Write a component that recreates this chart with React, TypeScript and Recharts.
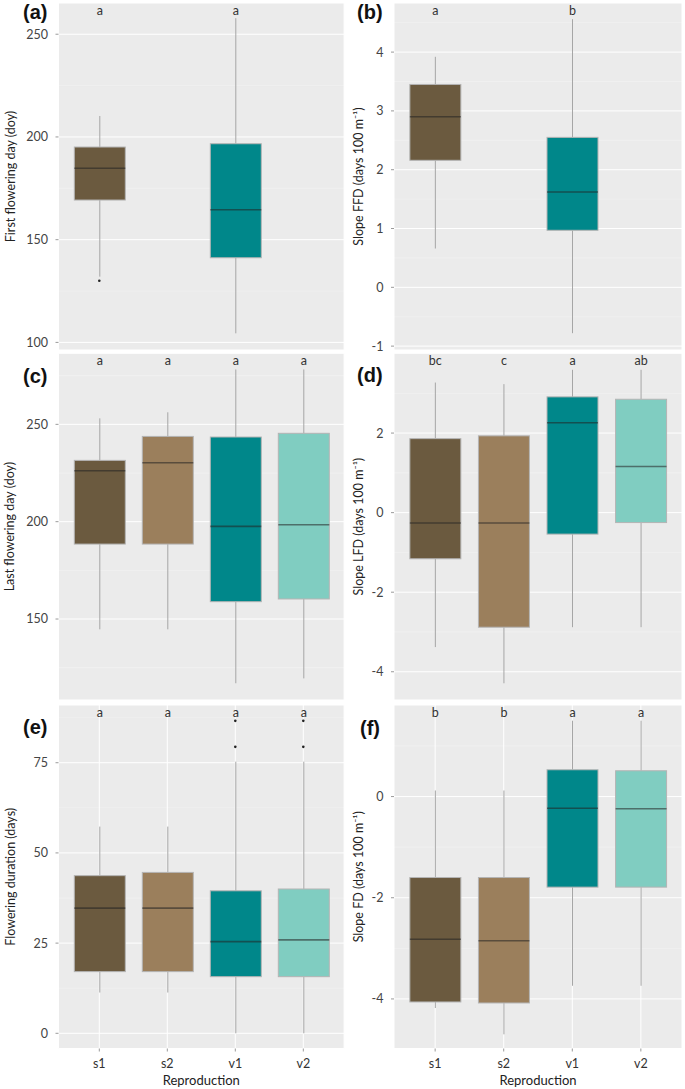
import React from "react";
import { ComposedChart, Bar, Line, XAxis, YAxis, CartesianGrid } from "recharts";

const cats = ["s1", "s2", "v1", "v2"];
const fills = ["#6b5a3f", "#9b7f5c", "#00878a", "#80cdc1"];
const font = "Lato, 'Open Sans', sans-serif";

// (a) first flowering day
const aLo = [132, null, 104.4, null];
const aQ1 = [169.3, null, 141.2, null];
const aMed = [184.8, null, 164.6, null];
const aQ3 = [195.1, null, 196.7, null];
const aHi = [210.2, null, 257.8, null];
const aOut = [130, null, null, null];
const aLetters = ["a", "", "a", ""];

// (b) slope FFD
const bLo = [0.66, null, -0.78, null];
const bQ1 = [2.16, null, 0.97, null];
const bMed = [2.9, null, 1.62, null];
const bQ3 = [3.45, null, 2.55, null];
const bHi = [3.92, null, 4.56, null];
const bLetters = ["a", "", "b", ""];

// (c) last flowering day
const cLo = [144.7, 144.7, 117, 119.5];
const cQ1 = [188.5, 188.5, 158.9, 160.3];
const cMed = [226.2, 230.3, 197.6, 198.4];
const cQ3 = [231.5, 243.8, 243.5, 245.4];
const cHi = [253.1, 256.2, 278.2, 278.2];
const cLetters = ["a", "a", "a", "a"];

// (d) slope LFD
const dLo = [-3.38, -4.29, -2.88, -2.88];
const dQ1 = [-1.16, -2.88, -0.54, -0.25];
const dMed = [-0.26, -0.26, 2.26, 1.16];
const dQ3 = [1.86, 1.93, 2.91, 2.85];
const dHi = [3.27, 3.23, 3.59, 3.59];
const dLetters = ["bc", "c", "a", "ab"];

// (e) flowering duration
const eLo = [11.3, 11.3, 0, 0];
const eQ1 = [17.1, 17.1, 15.7, 15.7];
const eMed = [34.7, 34.7, 25.4, 25.9];
const eQ3 = [43.7, 44.6, 39.5, 40];
const eHi = [57.3, 57.3, 75.3, 75.3];
const eOut1 = [null, null, 79.4, 79.4];
const eOut2 = [null, null, 86.6, 86.6];
const eLetters = ["a", "a", "a", "a"];

// (f) slope FD
const fLo = [-4.18, -4.7, -3.74, -3.74];
const fQ1 = [-4.06, -4.08, -1.79, -1.79];
const fMed = [-2.82, -2.85, -0.23, -0.24];
const fQ3 = [-1.6, -1.6, 0.53, 0.51];
const fHi = [0.12, 0.12, 1.5, 1.5];
const fLetters = ["b", "b", "a", "a"];

type Num = number | null;

const BoxShape = (props: any) => {
  const { x, y, width, height, payload, letterY } = props;
  if (payload == null || payload.lo == null) return null;
  const span = payload.hi - payload.lo;
  const py = (v: number) => y + ((payload.hi - v) / span) * height;
  const cx = x + width / 2;
  return (
    <g>
      <line x1={cx} x2={cx} y1={py(payload.hi)} y2={py(payload.q3)} stroke="#a6a6a6" strokeWidth={1} />
      <line x1={cx} x2={cx} y1={py(payload.q1)} y2={py(payload.lo)} stroke="#a6a6a6" strokeWidth={1} />
      <rect
        x={x}
        y={py(payload.q3)}
        width={width}
        height={py(payload.q1) - py(payload.q3)}
        fill={fills[payload.i]}
        stroke="#b4b4b4"
        strokeWidth={1}
      />
      <line
        x1={x}
        x2={x + width}
        y1={py(payload.med)}
        y2={py(payload.med)}
        stroke="#222"
        strokeOpacity={0.55}
        strokeWidth={1.6}
      />
      <text x={cx} y={letterY} textAnchor="middle" fontSize={12.5} fontFamily={font} fill="#333">
        {payload.letter}
      </text>
    </g>
  );
};

type PanelProps = {
  tag: string;
  tagX: number;
  tagY: number;
  left: number;
  top: number;
  width: number;
  height: number;
  mTop: number;
  mRight: number;
  yW: number;
  xH: number;
  plotW: number;
  dom: [number, number];
  ticks: number[];
  minor: number[];
  title: string;
  titleX: number;
  lo: Num[];
  q1: Num[];
  med: Num[];
  q3: Num[];
  hi: Num[];
  outs: Num[][];
  letters: string[];
  bottom?: boolean;
};

function Panel(p: PanelProps) {
  const rows = cats.map((c, i) => {
    const r: any = {
      cat: c,
      i,
      lo: p.lo[i],
      q1: p.q1[i],
      med: p.med[i],
      q3: p.q3[i],
      hi: p.hi[i],
      letter: p.letters[i],
    };
    p.outs.forEach((o, k) => {
      r["o" + k] = o[i];
    });
    return r;
  });
  const pad = p.plotW / 42;
  const bw = Math.round((p.plotW / 4.2) * 0.75);
  return (
    <>
      <div
        style={{
          position: "absolute",
          left: p.tagX,
          top: p.tagY,
          fontFamily: "'Liberation Sans', Arial, sans-serif",
          fontWeight: "bold",
          fontSize: 20,
          lineHeight: "20px",
          color: "#111",
        }}
      >
        {p.tag}
      </div>
      <div style={{ position: "absolute", left: p.left, top: p.top }}>
        <ComposedChart
          width={p.width}
          height={p.height}
          data={rows}
          margin={{ top: p.mTop, right: p.mRight, left: 0, bottom: 0 }}
        >
          <CartesianGrid
            horizontalValues={p.minor}
            vertical={false}
            stroke="#f4f4f4"
            strokeWidth={0.6}
            fill="#ebebeb"
            fillOpacity={1}
          />
          <CartesianGrid stroke="#ffffff" strokeWidth={1} />
          <XAxis
            dataKey="cat"
            interval={0}
            padding={{ left: pad, right: pad }}
            axisLine={false}
            tickSize={3}
            tickLine={{ stroke: "#9a9a9a" }}
            tickMargin={8}
            height={p.xH}
            tick={p.bottom ? { fill: "#333", fontSize: 12.5, fontFamily: font } : false}
            label={
              p.bottom
                ? (lp: any) => (
                    <text
                      x={lp.viewBox.x + lp.viewBox.width / 2}
                      y={lp.viewBox.y + 36}
                      textAnchor="middle"
                      fontSize={13}
                      fontFamily={font}
                      fill="#222"
                    >
                      Reproduction
                    </text>
                  )
                : undefined
            }
          />
          <YAxis
            type="number"
            domain={p.dom}
            ticks={p.ticks}
            interval={0}
            allowDataOverflow
            width={p.yW}
            axisLine={false}
            tickSize={3}
            tickLine={{ stroke: "#9a9a9a" }}
            tickMargin={7.5}
            tick={{ fill: "#444", fontSize: 12.5, fontFamily: font }}
            label={(lp: any) => {
              const tx = lp.viewBox.x + p.titleX;
              const ty = lp.viewBox.y + lp.viewBox.height / 2;
              return (
                <text
                  x={tx}
                  y={ty}
                  transform={`rotate(-90, ${tx}, ${ty})`}
                  textAnchor="middle"
                  dominantBaseline="central"
                  fontSize={12.5}
                  fontFamily={font}
                  fill="#222"
                >
                  {p.title}
                </text>
              );
            }}
          />
          <Bar
            dataKey={(d: any) => (d.lo == null ? null : [d.lo, d.hi])}
            barSize={bw}
            shape={(sp: any) => <BoxShape {...sp} letterY={p.mTop + 12} />}
            isAnimationActive={false}
          />
          {p.outs.map((_, k) => (
            <Line
              key={k}
              dataKey={"o" + k}
              stroke="none"
              dot={{ r: 1.3, fill: "#222", stroke: "none" }}
              activeDot={false}
              isAnimationActive={false}
            />
          ))}
        </ComposedChart>
      </div>
    </>
  );
}

const leftCol = { left: 0, width: 345, yW: 58.5, mRight: 0.9, plotW: 285.6, titleX: 10, tagX: 23 };
const rightCol = { left: 340, width: 345, yW: 54, mRight: 3, plotW: 288, titleX: 18.5, tagX: 357 };
const row1 = { top: 0, height: 353, mTop: 3, xH: 3 };
const row2 = { top: 350, height: 353, mTop: 3.3, xH: 3 };
const row3 = { top: 702, height: 387, mTop: 3, xH: 40.5, bottom: true };

export default function App() {
  return (
    <div style={{ position: "absolute", left: 0, top: 0, width: 685, height: 1089, background: "#fff" }}>
      <Panel
        {...leftCol}
        {...row1}
        tag="(a)"
        tagY={1.5}
        dom={[96.3, 265.2]}
        ticks={[100, 150, 200, 250]}
        minor={[125, 175, 225]}
        title="First flowering day (doy)"
        lo={aLo}
        q1={aQ1}
        med={aMed}
        q3={aQ3}
        hi={aHi}
        outs={[aOut]}
        letters={aLetters}
      />
      <Panel
        {...rightCol}
        {...row1}
        tag="(b)"
        tagY={2}
        dom={[-1.066, 4.835]}
        ticks={[-1, 0, 1, 2, 3, 4]}
        minor={[-0.5, 0.5, 1.5, 2.5, 3.5, 4.5]}
        title="Slope FFD (days 100 m⁻¹)"
        lo={bLo}
        q1={bQ1}
        med={bMed}
        q3={bQ3}
        hi={bHi}
        outs={[]}
        letters={bLetters}
      />
      <Panel
        {...leftCol}
        {...row2}
        tag="(c)"
        tagY={366}
        dom={[108.4, 286.5]}
        ticks={[150, 200, 250]}
        minor={[125, 175, 225, 275]}
        title="Last flowering day (doy)"
        lo={cLo}
        q1={cQ1}
        med={cMed}
        q3={cQ3}
        hi={cHi}
        outs={[]}
        letters={cLetters}
      />
      <Panel
        {...rightCol}
        {...row2}
        tag="(d)"
        tagY={365}
        dom={[-4.71, 4.005]}
        ticks={[-4, -2, 0, 2]}
        minor={[-3, -1, 1, 3]}
        title="Slope LFD (days 100 m⁻¹)"
        lo={dLo}
        q1={dQ1}
        med={dMed}
        q3={dQ3}
        hi={dHi}
        outs={[]}
        letters={dLetters}
      />
      <Panel
        {...leftCol}
        {...row3}
        tag="(e)"
        tagY={717}
        dom={[-4.21, 91]}
        ticks={[0, 25, 50, 75]}
        minor={[12.5, 37.5, 62.5, 87.5]}
        title="Flowering duration (days)"
        lo={eLo}
        q1={eQ1}
        med={eMed}
        q3={eQ3}
        hi={eHi}
        outs={[eOut1, eOut2]}
        letters={eLetters}
      />
      <Panel
        {...rightCol}
        {...row3}
        tag="(f)"
        tagX={360}
        tagY={718}
        dom={[-4.98, 1.81]}
        ticks={[-4, -2, 0]}
        minor={[-3, -1, 1]}
        title="Slope FD (days 100 m⁻¹)"
        lo={fLo}
        q1={fQ1}
        med={fMed}
        q3={fQ3}
        hi={fHi}
        outs={[]}
        letters={fLetters}
      />
    </div>
  );
}
